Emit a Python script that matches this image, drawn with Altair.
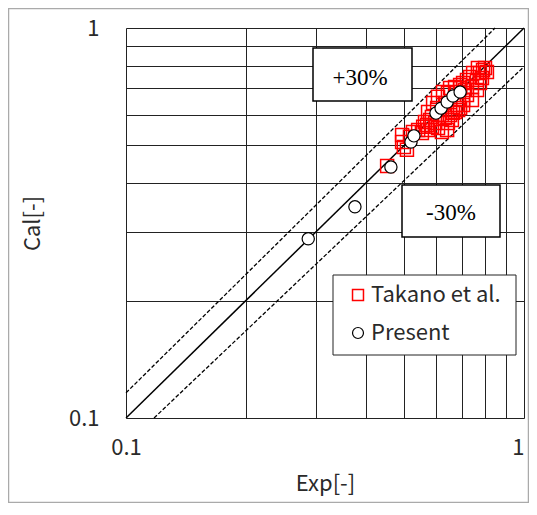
import altair as alt
import pandas as pd

# ---- data ----
takano_exp = [0.453, 0.494, 0.499, 0.508, 0.494, 0.517, 0.526, 0.542, 0.554, 0.558,
              0.571, 0.574, 0.564, 0.581, 0.587, 0.598, 0.608, 0.622, 0.641, 0.587,
              0.574, 0.605, 0.622, 0.633, 0.644, 0.652, 0.659, 0.671, 0.683, 0.691,
              0.663, 0.679, 0.591, 0.608, 0.626, 0.633, 0.644, 0.652, 0.671, 0.679,
              0.691, 0.703, 0.703, 0.703, 0.719, 0.719, 0.732, 0.740, 0.740, 0.745,
              0.762, 0.762, 0.766, 0.775, 0.775, 0.784, 0.789, 0.798, 0.807, 0.691,
              0.711]
takano_cal = [0.443, 0.510, 0.495, 0.487, 0.532, 0.526, 0.541, 0.548, 0.538, 0.558,
              0.564, 0.548, 0.574, 0.581, 0.558, 0.571, 0.554, 0.541, 0.548, 0.591,
              0.609, 0.624, 0.598, 0.588, 0.571, 0.598, 0.581, 0.609, 0.616, 0.624,
              0.606, 0.635, 0.642, 0.666, 0.685, 0.642, 0.681, 0.702, 0.706, 0.685,
              0.714, 0.723, 0.654, 0.635, 0.673, 0.736, 0.749, 0.706, 0.654, 0.767,
              0.736, 0.693, 0.790, 0.767, 0.723, 0.744, 0.780, 0.790, 0.771, 0.702,
              0.693]
present_exp = [0.287, 0.376, 0.463, 0.520, 0.529, 0.601, 0.619, 0.641, 0.663, 0.691]
present_cal = [0.288, 0.348, 0.440, 0.510, 0.529, 0.605, 0.623, 0.646, 0.669, 0.685]

diag_exp = [0.1, 1.0]
diag_cal = [0.1, 1.0]
upper_exp = [0.1, 0.846]
upper_cal = [0.116, 1.0]
lower_exp = [0.1176, 1.0]
lower_cal = [0.1, 0.796]

tick_values = [0.1, 0.2, 0.3, 0.4, 0.5, 0.6, 0.7, 0.8, 0.9, 1.0]
legend_labels = ["Takano et al.", "Present"]
band_labels = ["+30%", "-30%"]

FONT = "Noto Sans CJK JP"
SERIF = "Liberation Serif"
TXT = "#2a2a2a"

takano = pd.DataFrame({"exp": takano_exp, "cal": takano_cal})
present = pd.DataFrame({"exp": present_exp, "cal": present_cal})
diag = pd.DataFrame({"exp": diag_exp, "cal": diag_cal})
dashed = pd.DataFrame({
    "exp": upper_exp + lower_exp,
    "cal": upper_cal + lower_cal,
    "line": ["upper", "upper", "lower", "lower"],
})
one = pd.DataFrame({"k": [0]})

xs = alt.Scale(type="log", domain=[0.1, 1], nice=False)
ys = alt.Scale(type="log", domain=[0.1, 1], nice=False)

lab_expr = "datum.value < 0.15 ? '0.1' : (datum.value > 0.95 ? '1' : '')"

x_axis = alt.Axis(values=tick_values, labelExpr=lab_expr, grid=True, ticks=False,
                  domain=False, gridColor="#222222", gridWidth=1, gridOpacity=1,
                  labelFont=FONT, labelFontSize=22, labelColor=TXT,
                  labelAlign={"condition": {"test": "datum.value > 0.95",
                                            "value": "right"},
                              "value": "center"},
                  labelPadding=19, labelFlush=False, labelOverlap=False,
                  titleFont=FONT, titleFontSize=22, titleFontWeight="normal",
                  titleColor=TXT, titlePadding=15)
y_axis = alt.Axis(values=tick_values, labelExpr=lab_expr, grid=True, ticks=False,
                  domain=False, gridColor="#222222", gridWidth=1, gridOpacity=1,
                  labelFont=FONT, labelFontSize=22, labelColor=TXT,
                  labelPadding=27, labelFlush=False, labelOverlap=False,
                  titleFont=FONT, titleFontSize=22, titleFontWeight="normal",
                  titleColor=TXT, titlePadding=24)


def enc(chart):
    return chart.encode(
        x=alt.X("exp:Q", scale=xs, axis=x_axis, title="Exp[-]"),
        y=alt.Y("cal:Q", scale=ys, axis=y_axis, title="Cal[-]"),
    )


border = alt.Chart(one).mark_rect(fill="white", fillOpacity=0, stroke="#aaaaaa",
                                  strokeWidth=1.5, clip=False).encode(
    x=alt.value(-117.5), x2=alt.value(402.5), y=alt.value(-19.5), y2=alt.value(474.5))

diag_line = enc(alt.Chart(diag).mark_line(color="black", strokeWidth=1.5))
dash_lines = enc(alt.Chart(dashed).mark_line(color="black", strokeWidth=1.3,
                                             strokeDash=[4, 2])).encode(detail="line:N")

squares = enc(alt.Chart(takano).mark_point(shape="square", size=169, color="#ff0000",
                                            filled=False, strokeWidth=1.5, opacity=1))
circles = enc(alt.Chart(present).mark_point(shape="circle", size=150, fill="white",
                                             stroke="black", filled=True,
                                             strokeWidth=1.2, opacity=1))

box_style = dict(fill="white", stroke="black", strokeWidth=1.5, clip=False)
box_up = alt.Chart(one).mark_rect(**box_style).encode(
    x=alt.value(187), x2=alt.value(286), y=alt.value(20), y2=alt.value(73))
box_dn = alt.Chart(one).mark_rect(**box_style).encode(
    x=alt.value(276), x2=alt.value(374), y=alt.value(157), y2=alt.value(209))
txt_up = alt.Chart(one).mark_text(font=SERIF, fontSize=23, color="black",
                                  align="center", baseline="middle").encode(
    x=alt.value(234), y=alt.value(50), text=alt.value(band_labels[0]))
txt_dn = alt.Chart(one).mark_text(font=SERIF, fontSize=23, color="black",
                                  align="center", baseline="middle").encode(
    x=alt.value(325), y=alt.value(185), text=alt.value(band_labels[1]))

leg_box = alt.Chart(one).mark_rect(fill="white", stroke="#222222", strokeWidth=1,
                                   clip=False).encode(
    x=alt.value(207), x2=alt.value(390), y=alt.value(247), y2=alt.value(327))
leg_sq = alt.Chart(one).mark_point(shape="square", size=120, color="#ff0000",
                                   filled=False, strokeWidth=1.5, opacity=1).encode(
    x=alt.value(232), y=alt.value(267))
leg_ci = alt.Chart(one).mark_point(shape="circle", size=120, fill="white",
                                   stroke="black", filled=True, strokeWidth=1.2,
                                   opacity=1).encode(x=alt.value(232), y=alt.value(305))
leg_t1 = alt.Chart(one).mark_text(font=FONT, fontSize=22, color=TXT,
                                  align="left", baseline="middle").encode(
    x=alt.value(245), y=alt.value(267), text=alt.value(legend_labels[0]))
leg_t2 = alt.Chart(one).mark_text(font=FONT, fontSize=22, color=TXT,
                                  align="left", baseline="middle").encode(
    x=alt.value(245), y=alt.value(305), text=alt.value(legend_labels[1]))

chart = alt.layer(
    border, diag_line, dash_lines, squares, circles,
    box_up, box_dn, txt_up, txt_dn,
    leg_box, leg_sq, leg_ci, leg_t1, leg_t2,
).properties(
    width=398, height=390,
    autosize=alt.AutoSizeParams(type="none"),
    padding={"left": 118, "top": 20, "right": 5, "bottom": 85},
).configure_view(
    stroke="black", strokeWidth=1.5
).configure(background="white")

chart.save("out.html", embed_options={"renderer": "svg", "actions": False})
